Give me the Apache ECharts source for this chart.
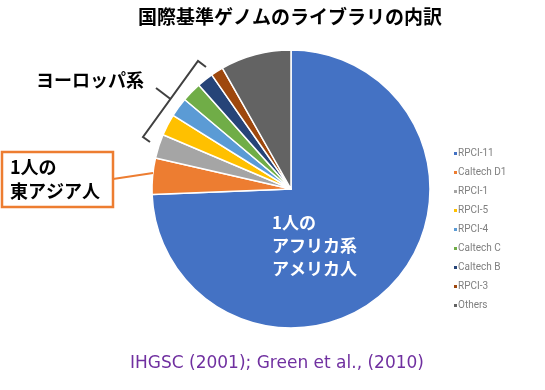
<!DOCTYPE html>
<html><head><meta charset="utf-8">
<script src="https://cdn.jsdelivr.net/npm/echarts@6/dist/echarts.min.js"></script>
<style>html,body{margin:0;padding:0;background:#fff}#c{width:545px;height:390px}</style>
</head><body><div id="c"></div>
<script>
const categories = ['RPCI-11','Caltech D1','RPCI-1','RPCI-5','RPCI-4','Caltech C','Caltech B','RPCI-3','Others'];
const values = [74.3, 4.2, 2.8, 2.5, 2.25, 2.3, 1.9, 1.45, 8.2];
const colors = ['#4472C4','#ED7D31','#A5A5A5','#FFC000','#5B9BD5','#70AD47','#264478','#9E480E','#636363'];
const titleText = '国際基準ゲノムのライブラリの内訳';
const citation = 'IHGSC (2001); Green et al., (2010)';
const cjk = '"Noto Sans CJK JP", sans-serif';

const chart = echarts.init(document.getElementById('c'));
chart.setOption({
  animation: false,
  color: colors,
  title: {
    text: titleText, left: 133, top: 2,
    textStyle: {fontFamily: cjk, fontSize: 19, fontWeight: 'bold', color: '#000'}
  },
  legend: {
    orient: 'vertical', left: 447, top: 143,
    icon: 'rect', itemWidth: 5, itemHeight: 5, itemGap: 8,
    textStyle: {fontFamily: 'Roboto, sans-serif', fontSize: 10, color: '#7f7f7f', lineHeight: 11, padding: [0,0,0,-5]},
    data: categories
  },
  series: [{
    type: 'pie',
    center: [291, 189], radius: 139,
    startAngle: 90, clockwise: true,
    label: {show: false}, labelLine: {show: false},
    itemStyle: {borderColor: '#fff', borderWidth: 1.5},
    data: categories.map((c, i) => ({name: c, value: values[i]}))
  }],
  graphic: [
    {type: 'text', z: 100, left: 36, top: 71, style: {text: 'ヨーロッパ系', font: 'bold 18px ' + cjk, fill: '#000'}},
    {type: 'polyline', z: 100, shape: {points: [[206,67],[198,61],[143,137],[150,142]]}, style: {stroke: '#404040', lineWidth: 2, fill: null}},
    {type: 'line', z: 100, shape: {x1: 156, y1: 88, x2: 170.5, y2: 99}, style: {stroke: '#404040', lineWidth: 2}},
    {type: 'rect', z: 100, shape: {x: 2, y: 152, width: 111, height: 55}, style: {stroke: '#ED7D31', lineWidth: 2.5, fill: '#fff'}},
    {type: 'line', z: 100, shape: {x1: 113, y1: 179, x2: 153, y2: 173}, style: {stroke: '#ED7D31', lineWidth: 2}},
    {type: 'text', z: 101, left: 10, top: 155, style: {text: '1人の\n東アジア人', font: 'bold 18px ' + cjk, lineHeight: 24, fill: '#000'}},
    {type: 'text', z: 101, left: 272, top: 211, style: {text: '1人の\nアフリカ系\nアメリカ人', font: 'bold 17px ' + cjk, lineHeight: 23, fill: '#fff'}},
    {type: 'text', z: 100, left: 130, top: 355, style: {text: citation, font: '17px "DejaVu Sans", sans-serif', fill: '#7030A0'}}
  ]
});
</script></body></html>
